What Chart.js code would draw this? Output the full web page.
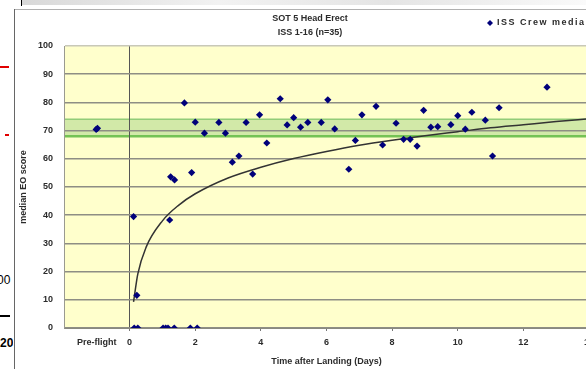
<!DOCTYPE html>
<html>
<head>
<meta charset="utf-8">
<title>SOT 5 Head Erect</title>
<script src="https://cdn.jsdelivr.net/npm/chart.js@4.4.1/dist/chart.umd.min.js"></script>
<style>
  html, body { margin: 0; padding: 0; background: #fff; overflow: hidden; }
  body { width: 586px; height: 369px; position: relative; font-family: Arial, "Liberation Sans", sans-serif; }
  .deco { position: absolute; }
  #wrap { position: absolute; left: 0; top: 0; width: 620px; height: 369px; }
</style>
</head>
<body>
<!-- bits of the slide around the pasted chart -->
<div class="deco" style="left:21px;top:0;width:565px;height:5px;background:linear-gradient(to right,#d8d8d8,#f2f2f2 35%,#e4e4e4 65%,#fafafa)"></div>
<div class="deco" style="left:21px;top:0;width:1px;height:6px;background:#000"></div>
<div class="deco" style="left:14px;top:9px;width:600px;height:1px;background:#b0b0b0"></div>
<div class="deco" style="left:14px;top:9px;width:1px;height:360px;background:#666"></div>
<div class="deco" style="left:0;top:66px;width:9px;height:2px;background:#e00000"></div>
<div class="deco" style="left:5px;top:134px;width:4px;height:2px;background:#e00000"></div>
<div class="deco" style="left:-3px;top:273px;font-size:12px;color:#000">00</div>
<div class="deco" style="left:0;top:315px;width:10px;height:2px;background:#000"></div>
<div class="deco" style="left:0;top:336px;width:13px;height:14px;overflow:hidden;font-size:12px;font-weight:bold;color:#000">20</div>

<div id="wrap"><canvas id="chart" width="620" height="369"></canvas></div>

<script>
// chart text
const titleLines = ["SOT 5 Head Erect", "ISS 1-16 (n=35)"];
const seriesLabel = "ISS Crew median";
const xTitle = "Time after Landing (Days)";
const yTitle = "median EO score";

// x tick positions, -1 stands for the pre-flight column
const xTicks = [-1, 0, 2, 4, 6, 8, 10, 12, 14];

// crew medians, days after landing (pre-flight plotted at -1)
const dayValues = [
  -1.02, -0.98,
  0.12, 0.22, 0.14, 0.25,
  1.02, 1.1, 1.17, 1.36, 1.85, 2.06,
  1.22, 1.25, 1.37, 1.67, 1.89, 2.0, 2.28, 2.72, 2.92,
  3.13, 3.33, 3.55, 3.75, 3.96, 4.18, 4.59, 4.8, 5.0,
  5.21, 5.43, 5.84, 6.04, 6.25, 6.68, 6.88, 7.08, 7.51,
  7.71, 8.12, 8.35, 8.55, 8.76, 8.96, 9.18, 9.39, 9.79,
  10.0, 10.23, 10.43, 10.84, 11.06, 11.26, 12.72
];
const scoreValues = [
  70.4, 70.8,
  39.5, 11.6, 0, 0,
  0, 0, 0, 0, 0, 0,
  38.3, 53.6, 52.5, 79.8, 55.1, 73.0, 69.1, 72.9, 69.1,
  58.8, 61.0, 72.9, 54.6, 75.6, 65.6, 81.3, 72.0, 74.6,
  71.2, 72.9, 72.9, 80.9, 70.6, 56.3, 66.5, 75.6, 78.6,
  64.9, 72.6, 66.9, 66.9, 64.5, 77.2, 71.2, 71.4, 72.1,
  75.3, 70.5, 76.5, 73.7, 61.0, 78.1, 85.4
];

// log trend line
const trendDays = [0.12, 0.25, 0.5, 1, 1.5, 2, 3, 4, 5, 6, 7, 8, 9, 10, 11, 12, 13, 14];
const trendScores = [9.3, 19.2, 28.6, 38.0, 43.6, 47.6, 53.2, 57.0, 60.1, 62.6, 64.8, 66.6, 68.2, 69.6, 71.0, 72.1, 73.2, 74.2];

// green normal range band
const bandRange = [68, 74];

const textColor = "#2b2b2b";
const pointColor = "#00007a";
const baseFont = { family: 'Arial, "Liberation Sans", sans-serif', size: 9, weight: "bold" };

const plotBackground = {
  id: "plotBackground",
  beforeDraw(chart) {
    const { ctx, chartArea: a, scales: { y } } = chart;
    ctx.save();
    ctx.fillStyle = "#ffffcc";
    ctx.fillRect(a.left, a.top, a.right - a.left, a.bottom - a.top);
    const top = y.getPixelForValue(bandRange[1]);
    const bottom = y.getPixelForValue(bandRange[0]);
    ctx.fillStyle = "#d2e9a8";
    ctx.fillRect(a.left, top, a.right - a.left, bottom - top);
    ctx.strokeStyle = "#92cc78";
    ctx.lineWidth = 1.5;
    ctx.beginPath();
    ctx.moveTo(a.left, top);
    ctx.lineTo(a.right, top);
    ctx.stroke();
    ctx.strokeStyle = "#74c254";
    ctx.lineWidth = 2.5;
    ctx.beginPath();
    ctx.moveTo(a.left, bottom);
    ctx.lineTo(a.right, bottom);
    ctx.stroke();
    ctx.restore();
  },
};

// title is centred on the old excel chart, not on the plot, so draw it here
const heading = {
  id: "heading",
  afterDraw(chart) {
    const { ctx } = chart;
    ctx.save();
    ctx.fillStyle = textColor;
    ctx.font = "bold 9px Arial, 'Liberation Sans', sans-serif";
    ctx.textAlign = "center";
    ctx.textBaseline = "middle";
    ctx.fillText(titleLines[0], 310, 19);
    ctx.fillText(titleLines[1], 310, 33);

    // legend: diamond + letter-spaced label
    const lx = 490, ly = 23;
    ctx.fillStyle = pointColor;
    ctx.beginPath();
    ctx.moveTo(lx, ly - 3);
    ctx.lineTo(lx + 3, ly);
    ctx.lineTo(lx, ly + 3);
    ctx.lineTo(lx - 3, ly);
    ctx.closePath();
    ctx.fill();
    ctx.fillStyle = textColor;
    ctx.textAlign = "left";
    let cx = 497;
    for (const ch of seriesLabel) {
      ctx.fillText(ch, cx, ly);
      cx += ctx.measureText(ch).width + 1.5;
    }
    ctx.restore();
  },
};

const points = dayValues.map((d, i) => ({ x: d, y: scoreValues[i] }));
const trend = trendDays.map((d, i) => ({ x: d, y: trendScores[i] }));

new Chart(document.getElementById("chart"), {
  type: "scatter",
  data: {
    datasets: [
      {
        label: seriesLabel,
        data: points,
        pointStyle: "rectRot",
        pointRadius: 3.6,
        pointHoverRadius: 3.6,
        backgroundColor: pointColor,
        borderColor: pointColor,
        borderWidth: 0,
      },
      {
        type: "line",
        label: "trend",
        data: trend,
        borderColor: "#333333",
        borderWidth: 1.5,
        pointRadius: 0,
        cubicInterpolationMode: "monotone",
        fill: false,
      },
    ],
  },
  options: {
    responsive: false,
    animation: false,
    devicePixelRatio: 1,
    layout: { padding: { top: 46, right: 31, bottom: 0, left: 0 } },
    plugins: {
      legend: { display: false },
      title: { display: false },
      tooltip: { enabled: false },
    },
    scales: {
      x: {
        type: "linear",
        min: -2,
        max: 14,
        afterBuildTicks: (scale) => {
          scale.ticks = xTicks.map((v) => ({ value: v }));
        },
        afterFit: (scale) => {
          scale.height = 41;
        },
        grid: {
          color: (c) => (c.tick && c.tick.value === 0 ? "#555555" : "transparent"),
          tickColor: (c) => (c.tick && c.tick.value === -1 ? "transparent" : "#777777"),
          lineWidth: 1,
          tickLength: 3,
        },
        border: { color: "#8a8a80", width: 1 },
        ticks: {
          color: textColor,
          font: baseFont,
          padding: 6,
          maxRotation: 0,
          autoSkip: false,
          callback: (v) => (v === -1 ? "Pre-flight" : v),
        },
        title: {
          display: true,
          text: xTitle,
          color: textColor,
          font: baseFont,
          padding: { top: 4, bottom: 2 },
        },
      },
      y: {
        min: 0,
        max: 100,
        afterFit: (scale) => {
          scale.width = 64;
        },
        ticks: {
          stepSize: 10,
          color: textColor,
          font: baseFont,
          padding: 11,
        },
        grid: {
          color: (c) => (c.tick && c.tick.value === 100 ? "#c8c8b8" : "#8e8e84"),
          lineWidth: 1.6,
          drawTicks: false,
        },
        border: { color: "#9a9a90", width: 1 },
        title: {
          display: true,
          text: yTitle,
          color: textColor,
          font: baseFont,
          padding: { top: 18, bottom: 4 },
        },
      },
    },
  },
  plugins: [plotBackground, heading],
});
</script>
</body>
</html>
